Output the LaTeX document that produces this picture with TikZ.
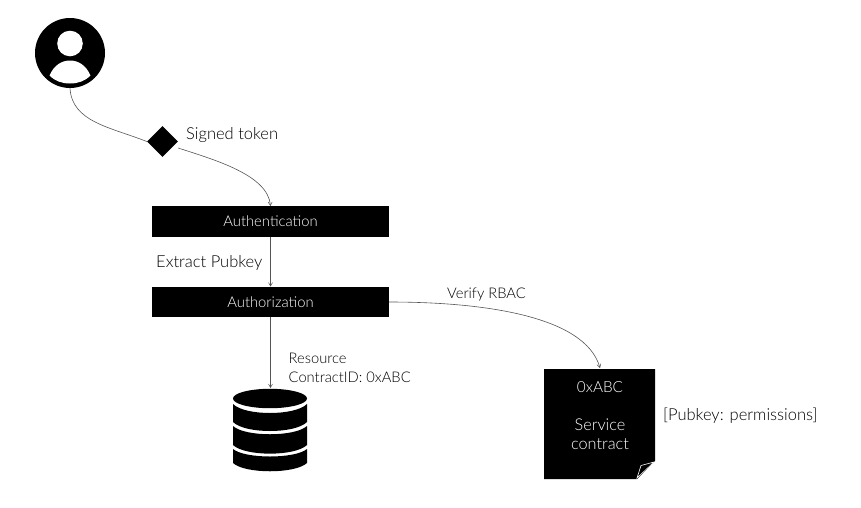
\documentclass[tikz,border=0pt]{standalone}
\usepackage{fontspec}
\setmainfont{Lato}[UprightFont=* Light]
\usetikzlibrary{shapes.geometric,arrows.meta}
\definecolor{wire}{HTML}{555555}
\tikzset{
 x=1pt,y=-1pt,
 lbl/.style={font=\fontsize{16.5}{20}\selectfont,text=black,inner sep=0pt,align=left},
 smalllbl/.style={font=\fontsize{14.7}{19}\selectfont,text=black,inner sep=0pt,align=left},
 bar/.style={fill=black,draw=none,minimum width=237pt,minimum height=30.5pt,inner sep=0pt,text=white,font=\fontsize{14.8}{17}\selectfont},
 wireline/.style={draw=wire,line width=0.6pt,-{Straight Barb[length=3.5pt,width=4pt,line width=0.5pt]}},
 plainwire/.style={draw=wire,line width=0.6pt},
}
\begin{document}
\begin{tikzpicture}
\useasboundingbox (0,0) rectangle (861,507);
% user
\node[circle,fill=black,minimum size=70pt,inner sep=0pt] (user) at (70,53) {};
\fill[white] (70,43.5) circle (12.8);
\fill[white] (49.5,75.5) .. controls (54,65) and (62,60.5) .. (70,60.5) .. controls (78,60.5) and (86,65) .. (90.5,75.5) .. controls (85,81) and (78,83.5) .. (70,83.5) .. controls (62,83.5) and (55,81) .. (49.5,75.5) -- cycle;
% diamond
\node[diamond,fill=black,minimum width=31pt,minimum height=31pt,inner sep=0pt,aspect=1] (token) at (162.5,141.5) {};
\node[lbl,anchor=west] (tokenlbl) at (186,135.5) {Signed token};
% bars
\node[bar] (authn) at (270.5,221.5) {\raisebox{-1.2pt}{Authentication}};
\node[bar] (authz) at (270.5,302) {\raisebox{-1pt}{Authorization}};
\node[lbl,anchor=west] (extract) at (156,263) {Extract Pubkey};
% database
\node[inner sep=0pt,minimum width=74pt,minimum height=83pt] (db) at (270,430) {};
\fill[black] (270,398.5) ellipse (37 and 9.7);
\fill[black] (233,404) .. controls (245,416) and (295,416) .. (307,404) -- (307,422) .. controls (295,434) and (245,434) .. (233,422) -- cycle;
\fill[black] (233,426) .. controls (245,437) and (295,437) .. (307,426) -- (307,445) .. controls (295,456.5) and (245,456.5) .. (233,445) -- cycle;
\fill[black] (233,449) .. controls (245,459) and (295,459) .. (307,449) -- (307,463) .. controls (295,474) and (245,474) .. (233,463) -- cycle;
% contract
\fill[black] (544,369) -- (655,369) -- (655,461) -- (637,479) -- (544,479) -- cycle;
\draw[white,fill=black,line width=0.6pt,line join=miter] (654,462) -- (641,465.5) -- (637,478) -- cycle;
\node[inner sep=0pt,minimum width=111pt,minimum height=110pt] (contract) at (599.5,424) {};
\node[text=white,font=\fontsize{15.3}{18}\selectfont,inner sep=0pt] (addr) at (600,387) {0xABC};
\node[text=white,font=\fontsize{16.3}{19}\selectfont,align=center,inner sep=0pt] (svc) at (600,434) {Service\\contract};
\node[lbl,anchor=west] (perm) at (663,415.5) {[Pubkey: permissions]};
\node[smalllbl,anchor=west] (res) at (288.5,368) {Resource\\ContractID: 0xABC};
\node[smalllbl,anchor=west] (rbac) at (447,295) {Verify RBAC};
% connectors
\draw[plainwire] (user.south) .. controls (72,122) and (110,127) .. (token.west);
\draw[wireline] (token.east |- 0,148) .. controls (215,160) and (268,175) .. (authn.north);
\draw[wireline] (authn.south) -- (authz.north);
\draw[wireline] (authz.east) .. controls (480,302) and (585,315) .. (600,368);
\draw[wireline] (authz.south) -- (270.5,388);
\end{tikzpicture}
\end{document}
